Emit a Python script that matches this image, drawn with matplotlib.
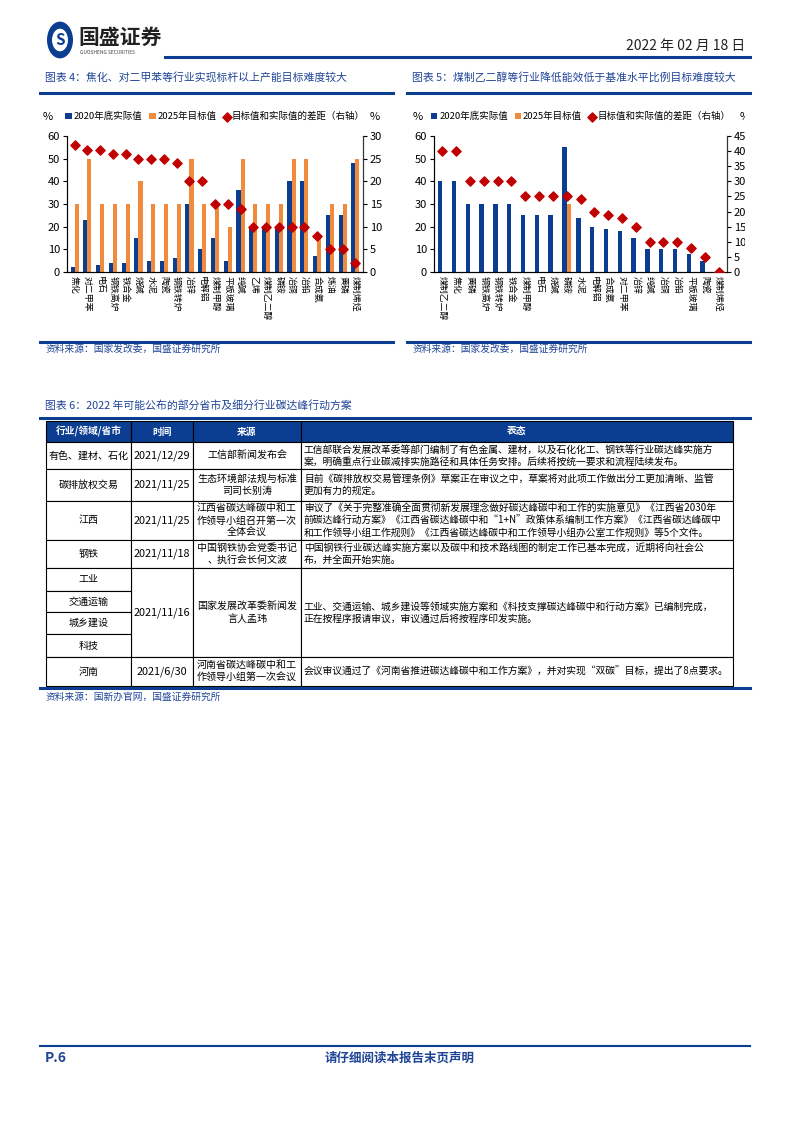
import numpy as np
import matplotlib
matplotlib.use("Agg")
import matplotlib.pyplot as plt
from matplotlib.patches import Rectangle, Circle
from matplotlib.lines import Line2D
from matplotlib.transforms import Bbox, TransformedBbox

plt.rcParams['font.family'] = ['Noto Sans CJK SC', 'DejaVu Sans']

# ---- data: chart 4 ----
cats4 = ['焦化', '对二甲苯', '电石', '钢铁高炉', '铁合金', '烧碱', '水泥', '陶瓷', '钢铁转炉',
         '冶锌', '电解铝', '煤制甲醇', '平板玻璃', '纯碱', '乙烯', '煤制乙二醇', '磷铵',
         '冶铜', '冶铅', '合成氨', '炼油', '黄磷', '煤制烯烃']
actual4 = [2, 23, 3, 4, 4, 15, 5, 5, 6, 30, 10, 15, 5, 36, 20, 20, 20, 40, 40, 7, 25, 25, 48]
target4 = [30, 50, 30, 30, 30, 40, 30, 30, 30, 50, 30, 30, 20, 50, 30, 30, 30, 50, 50, 15, 30, 30, 50]
gap4 = [28, 27, 27, 26, 26, 25, 25, 25, 24, 20, 20, 15, 15, 14, 10, 10, 10, 10, 10, 8, 5, 5, 2]

# ---- data: chart 5 ----
cats5 = ['煤制乙二醇', '焦化', '黄磷', '钢铁高炉', '钢铁转炉', '铁合金', '煤制甲醇', '电石', '烧碱',
         '磷铵', '水泥', '电解铝', '合成氨', '对二甲苯', '冶锌', '纯碱', '冶铜', '冶铅',
         '平板玻璃', '陶瓷', '煤制烯烃']
actual5 = [40, 40, 30, 30, 30, 30, 25, 25, 25, 55, 24, 20, 19, 18, 15, 10, 10, 10, 8, 5, 0]
target5 = [0, 0, 0, 0, 0, 0, 0, 0, 0, 30, 0, 0, 0, 0, 0, 0, 0, 0, 0, 0, 0]
gap5 = [40, 40, 30, 30, 30, 30, 25, 25, 25, 25, 24, 20, 19, 18, 15, 10, 10, 10, 8, 5, 0]

# ---- data: table 6 ----
col_heads = ['行业/领域/省市', '时间', '来源', '表态']
row_field = ['有色、建材、石化', '碳排放权交易', '江西', '钢铁', ['工业', '交通运输', '城乡建设', '科技'], '河南']
row_time = ['2021/12/29', '2021/11/25', '2021/11/25', '2021/11/18', '2021/11/16', '2021/6/30']
row_src = ['工信部新闻发布会', '生态环境部法规与标准\n司司长别涛', '江西省碳达峰碳中和工\n作领导小组召开第一次\n全体会议',
           '中国钢铁协会党委书记\n、执行会长何文波', '国家发展改革委新闻发\n言人孟玮', '河南省碳达峰碳中和工\n作领导小组第一次会议']
row_text = [
    '工信部联合发展改革委等部门编制了有色金属、建材，以及石化化工、钢铁等行业碳达峰实施方\n案，明确重点行业碳减排实施路径和具体任务安排。后续将按统一要求和流程陆续发布。',
    '目前《碳排放权交易管理条例》草案正在审议之中，草案将对此项工作做出分工更加清晰、监管\n更加有力的规定。',
    '审议了《关于完整准确全面贯彻新发展理念做好碳达峰碳中和工作的实施意见》《江西省2030年\n前碳达峰行动方案》《江西省碳达峰碳中和“1+N”政策体系编制工作方案》《江西省碳达峰碳中\n和工作领导小组工作规则》《江西省碳达峰碳中和工作领导小组办公室工作规则》等5个文件。',
    '中国钢铁行业碳达峰实施方案以及碳中和技术路线图的制定工作已基本完成，近期将向社会公\n布，并全面开始实施。',
    '工业、交通运输、城乡建设等领域实施方案和《科技支撑碳达峰碳中和行动方案》已编制完成，\n正在按程序报请审议，审议通过后将按程序印发实施。',
    '会议审议通过了《河南省推进碳达峰碳中和工作方案》，并对实现“双碳”目标，提出了8点要求。',
]

BLUE = '#0b3d91'
ORANGE = '#f08a3c'
RED = '#c00000'
TXTBLUE = '#1f4496'

W, H = 793, 1122
fig = plt.figure(figsize=(W / 100, H / 100), dpi=100)


def fx(x):
    return x / W


def fy(y):
    return 1 - y / H


def hline(x0, x1, y, lw=2.0, color=BLUE):
    fig.add_artist(Line2D([fx(x0), fx(x1)], [fy(y), fy(y)], color=color, lw=lw))


def ftext(x, y, s, **kw):
    return fig.text(fx(x), fy(y), s, **kw)


# ---- header ----
fig.add_artist(Circle((fx(60), fy(40)), 13 / W, transform=fig.transFigure, facecolor=BLUE, edgecolor='none'))
fig.add_artist(Circle((fx(60), fy(40)), 8 / W, transform=fig.transFigure, facecolor='white', edgecolor='none'))
ftext(60, 40, 'S', fontsize=11, fontweight='bold', color=BLUE, ha='center', va='center')
ftext(78, 37, '国盛证券', fontsize=15, fontweight='bold', color='#222222', va='center')
ftext(80, 53, 'GUOSHENG SECURITIES', fontsize=3.5, color='#444444', va='center')
ftext(745, 46, '2022 年 02 月 18 日', fontsize=10, color='#222222', ha='right', va='center')
hline(165, 750, 57, lw=2.2)

# ---- chart titles ----
ftext(45, 77, '图表 4：焦化、对二甲苯等行业实现标杆以上产能目标难度较大', fontsize=7.8, color=TXTBLUE,
      style='italic', va='center')
ftext(412, 77, '图表 5：煤制乙二醇等行业降低能效低于基准水平比例目标难度较大', fontsize=7.8, color=TXTBLUE,
      style='italic', va='center')
hline(40, 393, 93, lw=2.2)
hline(407, 750, 93, lw=2.2)


def bar_chart(rect, cats, actual, target, gap, rmax, rstep, clip_x=None):
    ax = fig.add_axes(rect)
    x = np.arange(len(cats))
    ax.bar(x - 0.16, actual, width=0.32, color=BLUE, label='2020年底实际值')
    ax.bar(x + 0.16, target, width=0.32, color=ORANGE, label='2025年目标值')
    ax.set_ylim(0, 60)
    ax.set_yticks(np.arange(0, 61, 10))
    ax.set_xlim(-0.6, len(cats) - 0.4)
    ax.set_xticks(x)
    ax.set_xticklabels(cats, rotation=270, fontsize=6.4, va='top', ha='center')
    ax.tick_params(axis='x', length=0, pad=3)
    ax.tick_params(axis='y', labelsize=8, length=3, direction='out', pad=2)
    ax.spines['top'].set_visible(False)
    for s in ['left', 'right', 'bottom']:
        ax.spines[s].set_color('#333333')
        ax.spines[s].set_linewidth(0.8)
    ax2 = ax.twinx()
    ax2.scatter(x, gap, marker='D', s=22, color=RED, zorder=5, label='目标值和实际值的差距（右轴）')
    ax2.set_ylim(0, rmax)
    ax2.set_yticks(np.arange(0, rmax + 1, rstep))
    ax2.tick_params(axis='y', labelsize=8, length=3, direction='out', pad=2)
    ax2.spines['top'].set_visible(False)
    ax2.spines['right'].set_color('#333333')
    ax2.spines['right'].set_linewidth(0.8)
    if clip_x is not None:
        cb = TransformedBbox(Bbox([[0, 0], [fx(clip_x), 1]]), fig.transFigure)
        for lab in ax2.get_yticklabels():
            lab.set_clip_box(cb)
            lab.set_clip_on(True)
    h1, l1 = ax.get_legend_handles_labels()
    h2, l2 = ax2.get_legend_handles_labels()
    ax.legend(h1 + h2, l1 + l2, ncol=3, frameon=False, fontsize=6.8, loc='lower center',
              bbox_to_anchor=(0.5, 1.08), handlelength=0.7, handleheight=0.7, handletextpad=0.2,
              columnspacing=0.7, borderaxespad=0)
    return ax, ax2


bar_chart([fx(67), fy(272), (363 - 67) / W, (272 - 136) / H], cats4, actual4, target4, gap4, 30, 5)
ftext(48, 117, '%', fontsize=8, va='center', ha='center')
ftext(375, 117, '%', fontsize=8, va='center', ha='center')

bar_chart([fx(434), fy(272), (727 - 434) / W, (272 - 136) / H], cats5, actual5, target5, gap5, 45, 5,
          clip_x=745)
ftext(418, 117, '%', fontsize=8, va='center', ha='center')
t = ftext(740, 117, '%', fontsize=8, va='center', ha='left')
t.set_clip_box(TransformedBbox(Bbox([[0, 0], [fx(745), 1]]), fig.transFigure))
t.set_clip_on(True)

# ---- sources ----
hline(40, 393, 342, lw=2.2)
hline(407, 750, 342, lw=2.2)
ftext(46, 349, '资料来源：国家发改委，国盛证券研究所', fontsize=7, color=TXTBLUE, style='italic', va='center')
ftext(413, 349, '资料来源：国家发改委，国盛证券研究所', fontsize=7, color=TXTBLUE, style='italic', va='center')

# ---- table ----
ftext(45, 405, '图表 6：2022 年可能公布的部分省市及细分行业碳达峰行动方案', fontsize=7.8, color=TXTBLUE,
      style='italic', va='center')
hline(40, 750, 418, lw=2.2)

cols = [46, 131, 193, 301, 733]
rows = [421, 442, 469, 501, 540, 568, 657, 686]
sub_rows = [568, 591, 612, 634, 657]


def rect(x0, y0, x1, y1, fc='white', ec='black', lw=0.8):
    fig.add_artist(Rectangle((fx(x0), fy(y1)), (x1 - x0) / W, (y1 - y0) / H, transform=fig.transFigure,
                             facecolor=fc, edgecolor=ec, lw=lw))


for i, head in enumerate(col_heads):
    rect(cols[i], rows[0], cols[i + 1], rows[1], fc=BLUE, ec='black')
    ftext((cols[i] + cols[i + 1]) / 2, (rows[0] + rows[1]) / 2, head, fontsize=7, color='white',
          ha='center', va='center', fontweight='bold')

for r in range(6):
    y0, y1 = rows[r + 1], rows[r + 2]
    yc = (y0 + y1) / 2
    for c in range(4):
        if not (r == 4 and c == 0):
            rect(cols[c], y0, cols[c + 1], y1)
    if r == 4:
        for k, name in enumerate(row_field[r]):
            rect(cols[0], sub_rows[k], cols[1], sub_rows[k + 1])
            ftext((cols[0] + cols[1]) / 2, (sub_rows[k] + sub_rows[k + 1]) / 2, name, fontsize=7.2,
                  ha='center', va='center')
    else:
        ftext((cols[0] + cols[1]) / 2, yc, row_field[r], fontsize=7.2, ha='center', va='center')
    ftext((cols[1] + cols[2]) / 2, yc, row_time[r], fontsize=7.8, ha='center', va='center')
    ftext((cols[2] + cols[3]) / 2, yc, row_src[r], fontsize=7.2, ha='center', va='center', linespacing=1.3)
    ftext(cols[3] + 3, yc, row_text[r], fontsize=7.05, ha='left', va='center', linespacing=1.3)

hline(40, 750, 688, lw=2.2)
ftext(46, 697, '资料来源：国新办官网，国盛证券研究所', fontsize=7, color=TXTBLUE, style='italic', va='center')

# ---- footer ----
hline(40, 750, 1046, lw=1.5)
ftext(45, 1058, 'P.6', fontsize=10, fontweight='bold', style='italic', color=TXTBLUE, va='center')
ftext(400, 1058, '请仔细阅读本报告末页声明', fontsize=9, fontweight='bold', color=TXTBLUE, va='center',
      ha='center')

fig.savefig('out.png', dpi=100)
